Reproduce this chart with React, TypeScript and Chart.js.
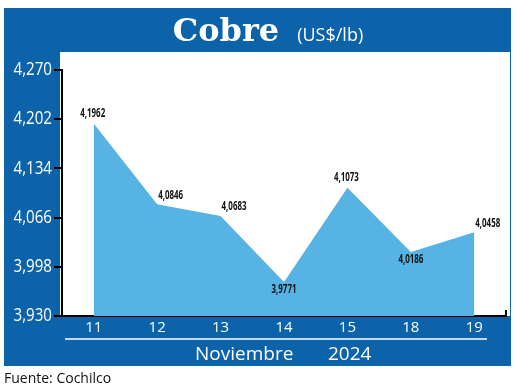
import React, { useEffect, useRef } from 'react';
import { Chart, registerables } from 'chart.js';

Chart.register(...registerables);

const DAYS = ['11', '12', '13', '14', '15', '18', '19'];
const PRICES = [4.1962, 4.0846, 4.0683, 3.9771, 4.1073, 4.0186, 4.0458];
const Y_TICKS = [3.93, 3.998, 4.066, 4.134, 4.202, 4.27];
const TITLE = 'Cobre';
const UNIT = '(US$/lb)';
const MONTH = 'Noviembre';
const YEAR = '2024';
const SOURCE = 'Fuente: Cochilco';
const LABEL_POS = ['top', 'right', 'right', 'bottom', 'top', 'bottom', 'right'];

const BLUE = '#0C63AA';
const FILL = '#56B3E3';
const SANS = "'Open Sans', sans-serif";

const fmt = (v: number, d: number) => v.toFixed(d).replace('.', ',');

// draw text horizontally condensed around an anchor point
function narrowText(ctx: any, txt: string, x: number, y: number, sx: number) {
  ctx.save();
  ctx.translate(x, y);
  ctx.scale(sx, 1);
  ctx.fillText(txt, 0, 0);
  ctx.restore();
}

const framePlugin = {
  id: 'frame',
  beforeDraw(chart: any) {
    const { ctx, chartArea: a } = chart;
    ctx.save();
    ctx.fillStyle = BLUE;
    ctx.fillRect(4, 8, 507, 358);
    ctx.fillStyle = '#ffffff';
    ctx.fillRect(a.left - 2, a.top - 18, a.right + 4 - (a.left - 2), a.bottom - (a.top - 18));
    ctx.restore();
  },
  afterDatasetsDraw(chart: any) {
    const { ctx } = chart;
    const meta = chart.getDatasetMeta(0);
    ctx.save();
    ctx.fillStyle = '#111111';
    ctx.font = `bold 12px ${SANS}`;
    const sx = 0.66;
    meta.data.forEach((pt: any, i: number) => {
      const txt = fmt(PRICES[i], 4);
      const pos = LABEL_POS[i];
      if (pos === 'top') {
        ctx.textAlign = 'center';
        ctx.textBaseline = 'bottom';
        narrowText(ctx, txt, pt.x - 1, pt.y - 4, sx);
      } else if (pos === 'right') {
        ctx.textAlign = 'left';
        ctx.textBaseline = 'bottom';
        narrowText(ctx, txt, pt.x + 1, pt.y - 3, sx);
      } else {
        ctx.textAlign = 'center';
        ctx.textBaseline = 'top';
        narrowText(ctx, txt, pt.x, pt.y + 2, sx);
      }
    });
    ctx.restore();
  },
  afterDraw(chart: any) {
    const { ctx, chartArea: a } = chart;
    const yScale = chart.scales.y;
    ctx.save();
    // y tick labels (condensed)
    ctx.fillStyle = '#ffffff';
    ctx.font = `18px ${SANS}`;
    ctx.textAlign = 'right';
    ctx.textBaseline = 'middle';
    Y_TICKS.forEach((v) => {
      narrowText(ctx, fmt(v, 3), 52, yScale.getPixelForValue(v), 0.84);
    });
    // small end tick of the x axis
    ctx.strokeStyle = '#000';
    ctx.lineWidth = 2;
    ctx.beginPath();
    ctx.moveTo(a.right, a.bottom - 6);
    ctx.lineTo(a.right, a.bottom);
    ctx.stroke();
    // title
    ctx.fillStyle = '#ffffff';
    ctx.textBaseline = 'alphabetic';
    ctx.textAlign = 'left';
    const f1 = "bold 32px 'DejaVu Serif', serif";
    const f2 = `18px ${SANS}`;
    ctx.font = f1;
    const w1 = ctx.measureText(TITLE).width;
    ctx.font = f2;
    const w2 = ctx.measureText(UNIT).width;
    const gap = 18;
    const x0 = 268 - (w1 + gap + w2) / 2;
    ctx.font = f1;
    ctx.fillText(TITLE, x0, 41);
    ctx.font = f2;
    ctx.fillText(UNIT, x0 + w1 + gap, 41);
    // separator line
    ctx.strokeStyle = '#ffffff';
    ctx.lineWidth = 1.5;
    ctx.beginPath();
    ctx.moveTo(65, 339);
    ctx.lineTo(487, 339);
    ctx.stroke();
    // month and year
    ctx.font = `19px ${SANS}`;
    ctx.fillText(MONTH, 195, 360);
    ctx.fillText(YEAR, 328, 360);
    // source
    ctx.fillStyle = '#111111';
    ctx.font = `14px ${SANS}`;
    ctx.fillText(SOURCE, 4, 383);
    ctx.restore();
  },
};

export default function App() {
  const ref = useRef<HTMLCanvasElement | null>(null);

  useEffect(() => {
    if (!ref.current) return;
    const chart = new Chart(ref.current, {
      type: 'line',
      data: {
        labels: DAYS,
        datasets: [
          {
            data: PRICES,
            fill: 'start',
            backgroundColor: FILL,
            borderColor: FILL,
            borderWidth: 0,
            pointRadius: 0,
            tension: 0,
          },
        ],
      },
      options: {
        animation: false,
        responsive: false,
        maintainAspectRatio: false,
        layout: { padding: { top: 70, right: 14, left: 0, bottom: 0 } },
        plugins: {
          legend: { display: false },
          tooltip: { enabled: false },
          title: { display: false },
        },
        scales: {
          x: {
            offset: true,
            grid: { drawOnChartArea: false, drawTicks: false },
            border: { display: true, color: '#000', width: 2 },
            ticks: { color: '#ffffff', font: { family: SANS, size: 15 }, padding: 3 },
            afterFit: (s: any) => {
              s.height = 71;
            },
          },
          y: {
            min: 3.93,
            max: 4.27,
            afterBuildTicks: (s: any) => {
              s.ticks = Y_TICKS.map((v) => ({ value: v }));
            },
            grid: { drawOnChartArea: false, drawTicks: true, tickLength: 8, color: '#000', lineWidth: 2 },
            border: { display: true, color: '#000', width: 2 },
            ticks: {
              color: 'rgba(0,0,0,0)',
              font: { family: SANS, size: 18 },
              padding: 3,
              callback: (v: any) => fmt(Number(v), 3),
            },
            afterFit: (s: any) => {
              s.width = 62;
            },
          },
        },
      },
      plugins: [framePlugin],
    });
    return () => chart.destroy();
  }, []);

  return (
    <div style={{ position: 'absolute', left: 0, top: 0, width: 520, height: 387, background: '#fff' }}>
      <canvas ref={ref} width={520} height={387} style={{ display: 'block', width: 520, height: 387 }} />
    </div>
  );
}
